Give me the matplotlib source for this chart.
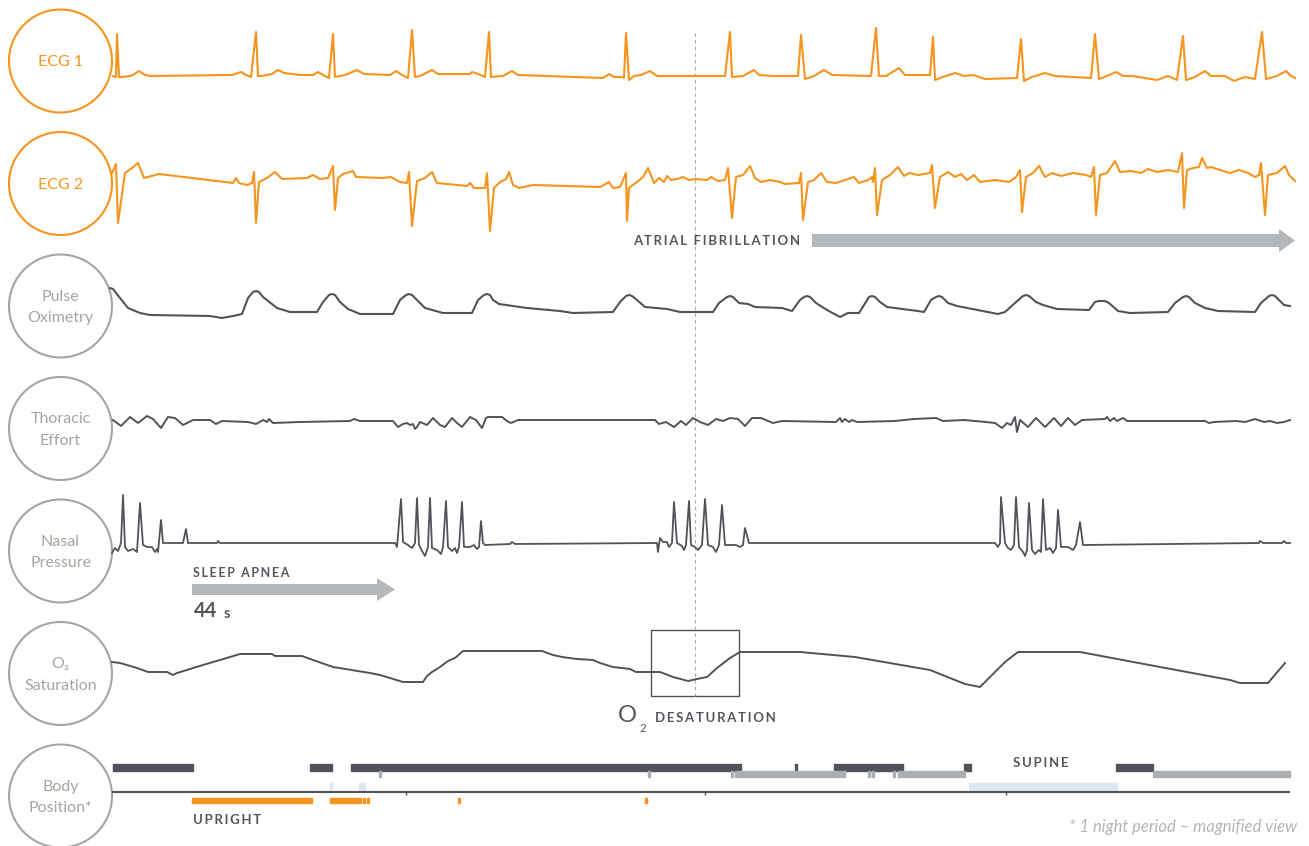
import matplotlib.pyplot as plt
from matplotlib.patches import Circle, Rectangle, FancyArrow

# time axis is in screen samples (x), amplitudes are relative to each trace baseline
ecg1 = [(113, 0), (116, -1), (117, 42), (119, -1), (122, -1), (130, 0), (133, 1), (139, 5), (145, 1),
        (150, 0), (232, 1), (241, 4), (246, 1), (251, -1), (256, 44), (258, 0), (261, 0), (272, 2),
        (278, 6), (284, 3), (300, 1), (313, 1), (318, 4), (323, 1), (329, -2), (333, 42), (335, -1),
        (345, 1), (357, 6), (364, 2), (390, 1), (396, 5), (402, 1), (408, -2), (412, 46), (415, -1),
        (420, 0), (432, 6), (438, 2), (470, 2), (472, 4), (478, 2), (485, -1), (489, 44), (491, -1),
        (503, 0), (512, 5), (518, 1), (603, -2), (609, 2), (614, -1), (621, -1), (624, -2), (626, 43),
        (629, -4), (634, 0), (641, 1), (650, 5), (657, 0), (725, 0), (730, 44), (732, -1), (743, 0),
        (754, 6), (759, 1), (773, 0), (798, 0), (801, 41), (805, -3), (814, 0), (824, 6), (832, 1),
        (871, 0), (876, 48), (879, 0), (886, 0), (899, 8), (905, 1), (930, 1), (933, 39), (935, -4),
        (943, -1), (955, 3), (964, 0), (973, 1), (985, -3), (1017, -2), (1021, 37), (1024, -5),
        (1032, -1), (1045, 3), (1055, 0), (1091, -2), (1095, 42), (1099, -3), (1107, 0), (1116, 4),
        (1123, 0), (1132, 0), (1157, -4), (1168, 0), (1177, -4), (1183, 40), (1186, -4), (1195, -1),
        (1205, 5), (1211, 0), (1225, 0), (1234, -5), (1245, -1), (1255, -3), (1262, 44), (1266, -3),
        (1277, 0), (1286, 5), (1291, 0), (1295, -2)]

ecg2 = [(112, 7), (116, 16), (118, -43), (125, 7), (132, 12), (138, 17), (144, 2), (159, 6), (233, -3),
        (236, 2), (239, -3), (247, -5), (252, -3), (254, 8), (256, -43), (259, -2), (267, 2), (275, 8),
        (282, 1), (307, 2), (313, 5), (320, 1), (328, 2), (333, 14), (335, -30), (338, 2), (343, 6),
        (353, 9), (356, 3), (383, 2), (391, 3), (400, -2), (407, -3), (409, 8), (412, -46), (417, -1),
        (425, 2), (432, 8), (437, -3), (467, -6), (470, -3), (474, -8), (485, -8), (487, 7), (490, -51),
        (494, -8), (500, -2), (506, 1), (509, 8), (513, -5), (519, -8), (533, -5), (600, -7), (609, -2),
        (613, -8), (620, -7), (626, 7), (627, -41), (629, -8), (637, -2), (643, 3), (648, 12), (654, -3),
        (659, 2), (664, -2), (667, 4), (671, 0), (677, 1), (683, 3), (689, 0), (695, 1), (707, 0),
        (711, 3), (718, -1), (725, 0), (728, 12), (732, -38), (736, 3), (743, 5), (750, 14), (755, 2),
        (761, -2), (770, 0), (780, -2), (785, -4), (799, -3), (801, 7), (803, -40), (808, -2), (814, 0),
        (821, 7), (827, -2), (836, -3), (845, 0), (854, 3), (859, -3), (868, 0), (872, 3), (873, -2),
        (875, 12), (877, -35), (882, 0), (890, 5), (898, 13), (904, 4), (909, 7), (918, 5), (930, 7),
        (932, 15), (935, -28), (940, 3), (948, 8), (955, 3), (961, 6), (967, 0), (974, 5), (980, -2),
        (995, 0), (1009, -2), (1016, 3), (1020, 10), (1022, -32), (1026, 3), (1033, 7), (1039, 14),
        (1045, 3), (1052, 7), (1061, 4), (1073, 7), (1086, 5), (1091, 3), (1094, 13), (1096, -35),
        (1100, 5), (1107, 7), (1115, 19), (1120, 8), (1131, 9), (1141, 7), (1148, 11), (1157, 8),
        (1168, 10), (1178, 8), (1182, 27), (1184, -28), (1187, 10), (1193, 12), (1199, 13), (1202, 22),
        (1207, 12), (1211, 13), (1220, 10), (1230, 7), (1239, 10), (1248, 7), (1255, 3), (1259, 5),
        (1261, 17), (1265, -35), (1268, 5), (1277, 7), (1285, 14), (1289, 5), (1295, -1)]

pulse = [(110, 27), (113, 26), (120, 17), (128, 7), (140, 2), (150, 0), (210, -1), (222, -3), (233, -1),
         (242, 1), (248, 17), (253, 23), (256, 24), (259, 23), (263, 18), (277, 7), (290, 3), (317, 3),
         (323, 13), (329, 20), (332, 21), (335, 20), (340, 13), (348, 6), (360, 1), (393, 1), (400, 15),
         (406, 20), (409, 21), (412, 20), (417, 15), (425, 7), (443, 2), (472, 2), (478, 15), (484, 20),
         (487, 21), (490, 20), (493, 15), (499, 11), (527, 7), (560, 4), (573, 2), (613, 3), (620, 13),
         (626, 19), (629, 20), (632, 19), (637, 15), (645, 8), (667, 6), (680, 3), (713, 3), (719, 12),
         (727, 18), (730, 19), (733, 18), (739, 12), (748, 11), (755, 8), (782, 7), (792, 4), (800, 15),
         (804, 18), (807, 19), (810, 18), (816, 12), (827, 5), (840, -2), (848, 2), (859, 2), (864, 10),
         (869, 18), (872, 19), (875, 18), (880, 13), (887, 8), (918, 4), (924, 3), (931, 15), (936, 18),
         (939, 19), (942, 18), (948, 12), (957, 9), (998, 1), (1005, 3), (1015, 12), (1023, 19),
         (1026, 20), (1029, 19), (1036, 13), (1043, 10), (1057, 6), (1089, 5), (1095, 13), (1099, 14),
         (1102, 14), (1105, 14), (1109, 12), (1118, 4), (1130, 2), (1168, 3), (1175, 12), (1183, 18),
         (1186, 19), (1189, 18), (1195, 12), (1205, 7), (1218, 4), (1255, 3), (1261, 12), (1269, 19),
         (1272, 20), (1275, 19), (1280, 14), (1284, 10), (1290, 9)]

thoracic = [(113, 0), (121, -6), (130, 3), (138, -3), (147, 4), (153, 1), (161, -8), (168, 3), (175, 2),
            (183, -5), (193, 0), (210, 0), (216, -4), (222, -1), (248, -2), (256, -4), (263, 0), (267, -2),
            (269, 1), (273, -3), (300, -2), (350, -1), (354, 1), (360, -1), (393, -1), (398, -7),
            (403, -4), (407, -3), (410, -5), (413, -4), (415, -9), (417, -7), (420, -2), (427, -5),
            (433, 2), (440, -5), (445, -7), (452, 2), (457, -3), (462, -7), (470, 3), (476, 0), (482, -8),
            (486, 2), (488, 3), (502, 3), (507, -1), (511, -3), (518, 0), (655, 0), (659, -4), (666, -2),
            (674, -7), (681, -1), (686, -5), (693, 2), (700, -2), (708, -5), (716, 1), (723, -1), (730, 2),
            (738, 1), (745, -6), (752, 2), (761, 2), (773, -3), (782, -1), (836, -2), (840, 2), (842, -2),
            (845, 1), (849, -2), (852, 0), (857, -2), (895, -1), (914, 1), (936, 2), (943, -1), (964, 0),
            (986, -2), (995, -3), (1002, -8), (1007, -3), (1011, -5), (1015, 3), (1017, -12), (1020, 0),
            (1028, -7), (1036, 2), (1045, -7), (1054, 2), (1061, -6), (1068, 2), (1075, -5), (1082, 0),
            (1105, 1), (1107, 3), (1110, -1), (1114, 2), (1117, -1), (1123, 2), (1127, -1), (1205, -1),
            (1209, -3), (1214, -2), (1236, -1), (1245, -2), (1255, 1), (1264, -2), (1270, -1), (1277, -3),
            (1284, -2), (1290, 0)]

nasal = [(112, -10), (115, -5), (118, -8), (121, 0), (123, 48), (125, -4), (128, -8), (133, -6), (137, -9),
         (140, 40), (143, -2), (147, -4), (152, -4), (155, -9), (157, -6), (158, -9), (161, 23), (163, 0),
         (183, 0), (186, 14), (188, 0), (217, 0), (218, 2), (220, 0), (395, 0), (397, -4), (401, 44),
         (403, 1), (408, -2), (412, -5), (415, 0), (417, 45), (419, -2), (422, -8), (425, -13), (428, -4),
         (430, 45), (432, -5), (437, -7), (441, -11), (443, -4), (446, 42), (448, -4), (452, -8),
         (455, -5), (457, -10), (459, -4), (462, 41), (464, -4), (470, -4), (474, -2), (477, -6),
         (479, -4), (481, 22), (483, 0), (485, -2), (510, -1), (512, 1), (515, -1), (657, 0), (658, -9),
         (660, 5), (663, 1), (667, 1), (669, -4), (672, 0), (674, 41), (677, 0), (682, -3), (684, -7),
         (686, -2), (689, 42), (691, -2), (695, -4), (698, -7), (702, -2), (705, 44), (708, -2),
         (713, -4), (716, -9), (719, -2), (722, 38), (725, -2), (736, -2), (740, -4), (743, -2),
         (745, 15), (749, 0), (995, 0), (998, -4), (1000, 0), (1001, 46), (1005, 0), (1008, -5),
         (1011, -7), (1014, -2), (1016, 46), (1019, -4), (1023, -9), (1025, -13), (1027, -7), (1029, 40),
         (1032, -7), (1035, -11), (1039, -7), (1041, -9), (1043, 44), (1046, -7), (1050, -5), (1053, -10),
         (1056, -5), (1058, 33), (1061, -4), (1068, -4), (1073, -7), (1076, -2), (1080, 21), (1083, -2),
         (1259, 0), (1260, 2), (1263, 0), (1282, 0), (1284, 2), (1286, 0), (1290, 0)]

o2_sat = [(112, 28), (120, 27), (137, 22), (148, 18), (167, 18), (173, 15), (177, 17), (203, 25), (220, 30),
          (240, 36), (253, 36), (272, 36), (275, 34), (302, 34), (313, 30), (333, 23), (370, 17), (380, 15),
          (403, 8), (423, 8), (427, 14), (432, 18), (440, 23), (448, 29), (455, 32), (463, 39), (542, 39),
          (553, 35), (562, 33), (577, 31), (593, 30), (600, 27), (613, 23), (630, 21), (636, 18), (660, 18),
          (673, 13), (688, 9), (697, 11), (707, 13), (717, 22), (730, 32), (740, 38), (800, 38), (855, 33),
          (930, 20), (965, 6), (980, 3), (1005, 28), (1018, 38), (1080, 38), (1160, 23), (1230, 10),
          (1240, 7), (1268, 7), (1285, 27)]

# body position segments: (start, length)
left_side = [(113, 80), (310, 22), (351, 390), (795, 2), (834, 69), (964, 7), (1116, 37)]
right_side = [(379, 1.5), (648, 1.5), (731, 1.5), (735, 110), (868, 1.5), (872, 1.5), (893, 1.5),
              (898, 67), (1153, 137)]
supine = [(330, 2), (359, 6), (969, 148)]
upright = [(192, 120), (330, 31), (363, 2), (367, 2), (458, 1.5), (645, 1.5)]
hour_ticks = [406, 705, 1006]

channel_labels = ['ECG 1', 'ECG 2', 'Pulse\nOximetry', 'Thoracic\nEffort', 'Nasal\nPressure',
                  'O\u2082\nSaturation', 'Body\nPosition*']

ORANGE = '#F7941D'
DARK = '#50545A'
TEXT = '#54585E'
RING = '#A9A49F'
ARROW = '#B4B7BC'
W, H = 1309, 846
FONT = ['Lato', 'DejaVu Sans']

fig = plt.figure(figsize=(W / 100, H / 100), dpi=100)
bg = fig.add_axes([0, 0, 1, 1])
bg.set_xlim(0, W)
bg.set_ylim(H, 0)
bg.axis('off')


def row_axes(base, half=70):
    ax = fig.add_axes([0, (H - base - half) / H, 1, 2 * half / H])
    ax.set_xlim(0, W)
    ax.set_ylim(-half, half)
    ax.axis('off')
    return ax


def spaced(s, gap='\u2009'):
    return gap.join(s)


traces = [(ecg1, 76, ORANGE, 1.5), (ecg2, 180, ORANGE, 1.5), (pulse, 315, DARK, 1.5),
          (thoracic, 420, DARK, 1.4), (nasal, 543, DARK, 1.3), (o2_sat, 690, DARK, 1.4)]
for series, base, color, lw in traces:
    ax = row_axes(base)
    t, v = zip(*series)
    ax.plot(t, v, color=color, lw=lw, solid_joinstyle='round')

# body position row
bax = row_axes(792)
bax.broken_barh(left_side, (21, 7), color=DARK)
bax.broken_barh(right_side, (15, 6), color='#ABAEB3')
bax.broken_barh(supine, (1, 8), color='#DDE7EF')
bax.broken_barh(upright, (-11, 5), color=ORANGE)
bax.hlines(0, 112, 1290, color=DARK, lw=1.5)
bax.vlines(hour_ticks, -3, 0, color=DARK, lw=1)

# channel circles
for i, label in enumerate(channel_labels):
    cy = 61 + i * 122.5
    c = ORANGE if i < 2 else RING
    bg.add_patch(Circle((60.5, cy), 51.5, fill=False, ec=c, lw=1.5))
    bg.text(60.5, cy + 1.5, label, color=c, ha='center', va='center', fontsize=11.5,
            family=FONT, fontweight='normal', linespacing=1.65)

# marker line and desaturation box
bg.plot([695, 695], [33, 696], color='#A8A8A8', lw=0.8, dashes=(3, 3))
bg.add_patch(Rectangle((651, 630), 88, 66, fill=False, ec=DARK, lw=1))

# annotations
bg.add_patch(FancyArrow(812, 240.5, 483, 0, width=13, head_width=23, head_length=16,
                        length_includes_head=True, color=ARROW, lw=0))
bg.text(633, 241, spaced('ATRIAL FIBRILLATION'), color=TEXT, fontsize=9.5, fontweight='bold',
        family=FONT, va='center', ha='left')
bg.add_patch(FancyArrow(192, 589.5, 203, 0, width=11, head_width=23, head_length=18,
                        length_includes_head=True, color=ARROW, lw=0))
bg.text(193, 573, spaced('SLEEP APNEA'), color=TEXT, fontsize=9, fontweight='bold',
        family=FONT, va='center', ha='left')
bg.text(194, 611, '44', color=TEXT, fontsize=14.5, fontweight='bold', family=FONT, va='center')
bg.text(224, 614, 's', color=TEXT, fontsize=10.5, fontweight='bold', family=FONT, va='center')
bg.text(618, 716, 'O', color=TEXT, fontsize=17, fontweight='normal', family=FONT, va='center')
bg.text(640, 729, '2', color=TEXT, fontsize=8.5, family=FONT, va='center')
bg.text(655, 718, spaced('DESATURATION'), color=TEXT, fontsize=9.5, fontweight='bold',
        family=FONT, va='center')
bg.text(1013, 763, spaced('SUPINE'), color=TEXT, fontsize=9.5, fontweight='bold',
        family=FONT, va='center')
bg.text(193, 820, spaced('UPRIGHT'), color=TEXT, fontsize=9.5, fontweight='bold',
        family=FONT, va='center')
bg.text(1297, 827, '* 1 night period \u2013 magnified view', color='#B5B5B5', fontsize=12,
        style='italic', family=FONT, ha='right', va='center')

fig.savefig('out.png', dpi=100)
